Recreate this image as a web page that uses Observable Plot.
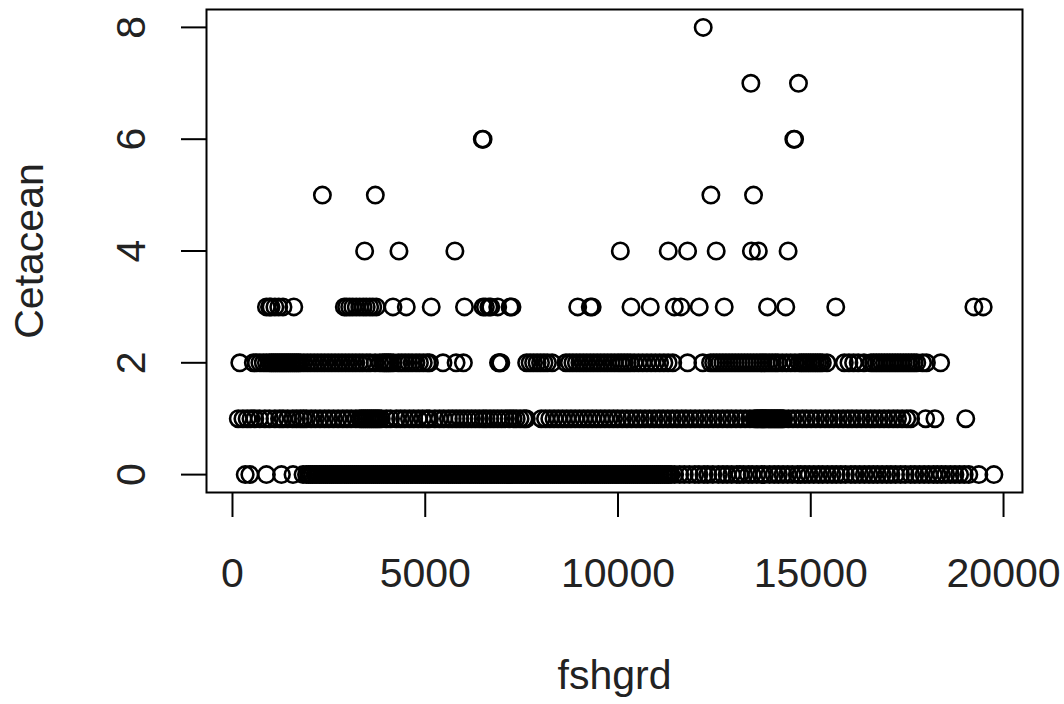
<!DOCTYPE html>
<html>
<head>
<meta charset="utf-8">
<script src="https://cdn.jsdelivr.net/npm/d3@7"></script>
<script src="https://cdn.jsdelivr.net/npm/@observablehq/plot@0.6"></script>
<style>
  html, body { margin: 0; padding: 0; background: #fff; }
  #chart { width: 1064px; height: 704px; overflow: hidden; }
</style>
</head>
<body>
<div id="chart"></div>
<script>
// Cetacean count levels and the fshgrd values observed at each level
const cetaceanLevels = [0, 1, 2, 3, 4, 5, 6, 7, 8];

const fshgrdAt0 = [330, 450, 880, 1270, 1570, 1830,
  1920,1975,2030,2080,2140,2190,2250,2300,2355,2410,2460,2520,2570,2625,2680,2735,2790,2840,2900,2950,
  3005,3060,3110,3170,3220,3275,3330,3385,3440,3490,3545,3600,3655,3710,3760,3815,3870,3925,3980,
  4030,4085,4140,4195,4250,4300,4355,4410,4465,4520,4570,4625,4680,4735,4790,4840,4895,4950,
  5005,5060,5110,5165,5220,5275,5330,5380,5435,5490,5545,5600,5650,5705,5760,5815,5870,5920,5975,
  6030,6085,6140,6190,6245,6300,6355,6410,6460,6515,6570,6625,6680,6730,6785,6840,6895,6950,
  7000,7055,7110,7165,7220,7270,7325,7380,7435,7490,7540,7595,7650,7705,7760,7810,7865,7920,7975,
  8030,8080,8135,8190,8245,8300,8350,8405,8460,8515,8570,8620,8675,8730,8785,8840,8890,8945,
  9000,9055,9110,9160,9215,9270,9325,9380,9430,9485,9540,9595,9650,9700,9755,9810,9865,9920,9970,
  10025,10080,10135,10190,10240,10295,10350,10405,10460,10510,10565,10620,10675,10730,10780,10835,10890,10945,
  11000,11050,11105,11160,11215,11270,11320,11375,
  11470,11600,11720,11850,11990,12100,12230,12330,12460,12600,12720,12830,12950,13080,13160,13260,13380,13480,
  13600,13720,13800,13930,14050,14160,14280,14400,14520,14650,14740,14850,14960,15080,15200,15310,15430,15550,
  15660,15780,15900,16040,16150,16270,16390,16510,16620,16730,16850,16970,17080,17200,17330,17450,17590,17700,
  17820,17940,18060,18180,18280,18390,18500,18620,18740,18860,18980,19100,19360,19750];

const fshgrdAt1 = [150,270,380,480,580,700,840,960,1100,1220,1313,1430,1560,1660,1760,1840,1920,2040,2150,2270,
  2390,2500,2620,2740,2860,2970,3080,3200,3300,3350,3400,3450,3500,3550,3600,3650,3700,3750,3800,3860,
  3990,4100,4250,4360,4470,4590,4700,4820,4930,5040,5110,5250,5370,5480,5600,5700,5800,5900,6000,6100,
  6200,6300,6400,6500,6580,6680,6780,6880,6980,7080,7180,7280,7360,7460,7560,7620,
  8010,8120,8230,8340,8450,8560,8670,8780,8890,9000,9110,9220,9330,9440,9550,9660,9770,9880,9990,
  10110,10230,10350,10470,10580,10700,10820,10940,11060,11170,11290,11410,11530,11650,11760,11880,12000,
  12120,12240,12350,12470,12590,12710,12830,12940,13060,13180,13300,13420,
  13530,13580,13620,13660,13700,13740,13780,13820,13860,13900,13940,13980,14020,14060,14100,14140,14180,14220,14260,14300,
  14420,14540,14660,14780,14890,15010,15130,15250,15370,15480,15600,15720,15840,15960,16070,16190,16310,
  16430,16550,16660,16780,16900,17020,17140,17250,17370,17490,17590,17980,18220,19020];

const fshgrdAt2 = [190,540,620,710,800,880,960,1010,1060,1110,1160,1210,1260,1310,1360,1410,1460,1510,1560,1610,
  1660,1710,1760,1850,1940,2030,2120,2210,2300,2390,2480,2570,2660,2750,2840,2930,3020,3110,3200,3290,
  3380,3480,3570,3700,3820,3900,3950,4000,4050,4100,4170,4300,4390,4480,4570,4660,4760,4850,4950,5050,
  5110,5460,5800,5990,6900,6930,6960,7630,7720,7810,7900,7990,8080,8170,8290,
  8650,8740,8830,8920,9010,9100,9190,9280,9370,9460,9550,9640,9730,9820,9910,
  10000,10080,10160,10240,10320,10420,10530,10640,10750,10860,10970,11080,11190,11300,11420,11805,12200,
  12400,12480,12560,12640,12720,12800,12880,12960,13040,13120,13200,13280,13360,13440,13520,13600,13680,
  13760,13840,13920,14000,14080,14150,14260,14370,14480,14590,14700,14760,14820,14880,14940,15000,15060,
  15120,15180,15240,15300,15420,15870,15990,16110,16230,16380,16560,16630,16700,16770,16840,16910,16980,
  17050,17120,17190,17260,17330,17400,17470,17540,17610,17680,17750,17900,18000,18368];

const fshgrdAt3 = [880,960,1000,1100,1200,1310,1590,
  2900,2960,3040,3120,3210,3300,3390,3470,3560,3640,3730,4163,4508,5155,6018,
  6500,6560,6650,6700,6880,7200,7250,8955,9280,9330,
  10337,10837,11460,11630,12107,12755,13878,14352,15648,19231,19473];

const fshgrdAt4 = [3428, 4318, 5769, 10060, 11303, 11805, 12547, 13460, 13640, 14412];
const fshgrdAt5 = [2332, 3705, 12409, 13515];
const fshgrdAt6 = [6480, 6500, 14560, 14580];
const fshgrdAt7 = [13446, 14681];
const fshgrdAt8 = [12210];

const xTicks = [0, 5000, 10000, 15000, 20000];
const yTicks = [0, 2, 4, 6, 8];
const xDomain = [-674, 20492];
const yDomain = [-0.32, 8.32];

const byLevel = [fshgrdAt0, fshgrdAt1, fshgrdAt2, fshgrdAt3, fshgrdAt4, fshgrdAt5, fshgrdAt6, fshgrdAt7, fshgrdAt8];
const data = byLevel.flatMap((xs, i) => xs.map(v => ({fshgrd: v, Cetacean: cetaceanLevels[i]})));

const FONT = "Liberation Sans, Arial, sans-serif";
const INK = "#222";

const chart = Plot.plot({
  width: 1064,
  height: 704,
  marginLeft: 206,
  marginRight: 42,
  marginTop: 9,
  marginBottom: 212,
  style: {fontFamily: FONT, color: INK, background: "#fff"},
  x: {domain: xDomain},
  y: {domain: yDomain},
  marks: [
    Plot.dot(data, {x: "fshgrd", y: "Cetacean", r: 8.2, stroke: "#000", strokeWidth: 2.6, fill: "none"}),
    Plot.frame({stroke: "#000", strokeWidth: 2}),
    Plot.axisX({ticks: xTicks, tickFormat: d => String(d), tickSize: 25, tickPadding: 40, fontSize: 41,
      strokeWidth: 2, stroke: "#000", label: null}),
    Plot.axisY({ticks: yTicks, tickFormat: d => String(d), tickSize: 25, tickPadding: 50, fontSize: 41,
      tickRotate: -90, textAnchor: "middle", lineAnchor: "middle", strokeWidth: 2, stroke: "#000", label: null}),
    Plot.text(["fshgrd"], {frameAnchor: "bottom", dy: 183, fontSize: 41, fill: INK, textAnchor: "middle", lineAnchor: "middle"}),
    Plot.text(["Cetacean"], {frameAnchor: "left", dx: -177, rotate: -90, fontSize: 41, fill: INK, textAnchor: "middle", lineAnchor: "middle"})
  ]
});
document.getElementById("chart").appendChild(chart);
</script>
</body>
</html>
